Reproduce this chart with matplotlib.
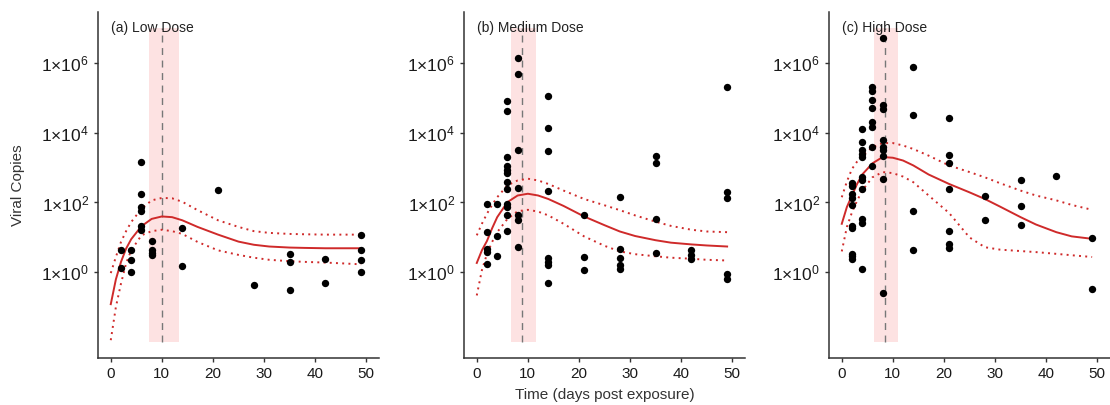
import numpy as np
import matplotlib
matplotlib.use("Agg")
import matplotlib.pyplot as plt

plt.rcParams['font.family'] = ['Liberation Sans', 'DejaVu Sans']
plt.rcParams['mathtext.fontset'] = 'custom'
plt.rcParams['mathtext.rm'] = 'Liberation Sans'
plt.rcParams['mathtext.it'] = 'Liberation Sans:italic'

# observed viral copies (log10), per dose group
low_day = [2, 2, 4, 4, 4, 6, 6, 6, 6, 6, 6, 8, 8, 8, 8, 14, 14, 21, 28, 35, 35, 35, 42, 42, 49, 49, 49, 49]
low_log = [0.63, 0.13, 0.63, 0.34, 0.0, 3.17, 2.23, 1.87, 1.77, 1.34, 1.2, 0.9, 0.63, 0.56, 0.49,
           1.27, 0.18, 2.36, -0.35, 0.53, 0.29, -0.51, 0.37, -0.3, 1.07, 0.63, 0.34, 0.0]

med_day = ([2] * 5 + [4] * 3 + [6] * 12 + [8] * 7 + [14] * 8 + [21] * 3 + [28] * 5
           + [35] * 4 + [42] * 3 + [49] * 5)
med_log = [1.95, 1.15, 0.66, 0.58, 0.23,
           1.95, 1.03, 0.47,
           4.9, 4.63, 3.3, 3.03, 2.93, 2.84, 2.58, 2.39, 1.96, 1.87, 1.65, 1.17,
           6.13, 5.69, 3.49, 2.42, 1.63, 1.5, 0.72,
           5.06, 4.13, 3.47, 2.34, 0.42, 0.31, 0.2, -0.3,
           1.63, 0.44, 0.07,
           2.15, 0.66, 0.42, 0.2, 0.1,
           3.14, 3.33, 1.53, 0.55,
           0.63, 0.51, 0.37,
           5.31, 2.29, 2.14, -0.04, -0.18]

high_day = ([2] * 10 + [4] * 11 + [6] * 8 + [8] * 9 + [14] * 4 + [21] * 7 + [28] * 2
            + [35] * 3 + [42] * 1 + [49] * 2)
high_log = [2.56, 2.48, 2.25, 2.14, 1.92, 1.34, 1.28, 0.53, 0.46, 0.39,
            4.1, 3.72, 3.49, 3.39, 3.29, 2.72, 2.63, 2.39, 1.53, 1.41, 0.1,
            5.29, 5.2, 4.93, 4.71, 4.3, 4.15, 3.6, 3.04,
            6.7, 4.8, 4.68, 3.79, 3.58, 3.49, 3.34, 2.68, -0.59,
            5.87, 4.51, 1.77, 0.65,
            4.41, 3.36, 3.13, 2.39, 1.17, 0.8, 0.7,
            2.18, 1.49,
            2.63, 1.91, 1.36,
            2.75,
            0.99, -0.47]

# fitted model (log10) with confidence band
fit_day = [0, 1, 2, 3, 4, 6, 8, 10, 12, 14, 17, 21, 25, 28, 31, 35, 38, 42, 45, 49]
low_fit = [-0.91, -0.2, 0.3, 0.68, 0.95, 1.32, 1.53, 1.6, 1.58, 1.49, 1.3, 1.08, 0.88, 0.79, 0.74, 0.71, 0.7, 0.69, 0.69, 0.69]
low_hi = [-0.02, 0.44, 0.87, 1.18, 1.44, 1.82, 2.06, 2.13, 2.12, 2.02, 1.78, 1.49, 1.3, 1.18, 1.13, 1.1, 1.09, 1.08, 1.08, 1.08]
low_lo = [-1.94, -0.99, -0.32, 0.26, 0.63, 1.06, 1.18, 1.22, 1.18, 1.1, 0.87, 0.63, 0.5, 0.42, 0.36, 0.32, 0.3, 0.28, 0.26, 0.23]

med_fit = [0.27, 0.63, 0.9, 1.26, 1.58, 2.01, 2.2, 2.25, 2.2, 2.1, 1.9, 1.6, 1.35, 1.17, 1.04, 0.92, 0.85, 0.8, 0.77, 0.74]
med_hi = [1.06, 1.39, 1.68, 1.93, 2.15, 2.49, 2.63, 2.68, 2.63, 2.53, 2.34, 2.1, 1.92, 1.78, 1.63, 1.45, 1.33, 1.22, 1.17, 1.15]
med_lo = [-0.66, 0.06, 0.53, 0.87, 1.15, 1.53, 1.75, 1.79, 1.74, 1.63, 1.39, 1.03, 0.76, 0.6, 0.52, 0.46, 0.42, 0.39, 0.36, 0.34]

high_fit = [1.39, 1.87, 2.2, 2.53, 2.8, 3.12, 3.3, 3.28, 3.2, 3.06, 2.8, 2.53, 2.29, 2.1, 1.88, 1.58, 1.37, 1.15, 1.03, 0.96]
high_hi = [2.15, 2.6, 2.96, 3.17, 3.34, 3.58, 3.7, 3.7, 3.63, 3.53, 3.34, 3.06, 2.87, 2.72, 2.55, 2.34, 2.2, 2.06, 1.93, 1.79]
high_lo = [0.6, 1.3, 1.72, 2.05, 2.34, 2.72, 2.87, 2.84, 2.74, 2.58, 2.2, 1.7, 1.0, 0.72, 0.65, 0.61, 0.58, 0.53, 0.49, 0.44]

# peak day and its interval
peak_day = [10.06, 8.9, 8.41]
peak_lo = [7.5, 6.63, 6.33]
peak_hi = [13.3, 11.5, 11.1]

titles = ['(a) Low Dose', '(b) Medium Dose', '(c) High Dose']
days = [low_day, med_day, high_day]
logs = [low_log, med_log, high_log]
fits = [low_fit, med_fit, high_fit]
his = [low_hi, med_hi, high_hi]
los = [low_lo, med_lo, high_lo]

red = '#cf2a2a'
fig = plt.figure(figsize=(11.1, 4.05), dpi=100)
lefts = [98 / 1110, 464 / 1110, 829 / 1110]
w = 281 / 1110

for i in range(3):
    ax = fig.add_axes([lefts[i], 47 / 405, w, 346 / 405])
    ax.fill_between([peak_lo[i], peak_hi[i]], 1e-2, 1e7, color='#fde2e2', lw=0, zorder=0)
    ax.plot([peak_day[i], peak_day[i]], [1e-2, 1e7], color='#777777', lw=1, ls=(0, (5, 4)), zorder=1)
    ax.plot(fit_day, 10 ** np.array(his[i]), color=red, lw=1.4, ls=(0, (1, 2.2)), zorder=2)
    ax.plot(fit_day, 10 ** np.array(los[i]), color=red, lw=1.4, ls=(0, (1, 2.2)), zorder=2)
    ax.plot(fit_day, 10 ** np.array(fits[i]), color=red, lw=1.4, zorder=3)
    ax.scatter(days[i], 10 ** np.array(logs[i]), s=28, color='black', lw=0, zorder=4)

    ax.set_yscale('log')
    ax.set_xlim(-2.5, 52.5)
    ax.set_ylim(10 ** -2.45, 10 ** 7.45)
    ax.set_xticks([0, 10, 20, 30, 40, 50])
    ax.set_yticks([1e0, 1e2, 1e4, 1e6])
    ax.set_yticklabels([r'$\mathregular{1{\times}10^{%d}}$' % p for p in [0, 2, 4, 6]])
    ax.yaxis.set_minor_locator(matplotlib.ticker.NullLocator())
    ax.tick_params(colors='#333333', labelcolor='#1a1a1a', length=3, width=1)
    ax.tick_params(axis='x', labelsize=11)
    ax.tick_params(axis='y', labelsize=12.5)
    for s in ['top', 'right']:
        ax.spines[s].set_visible(False)
    for s in ['left', 'bottom']:
        ax.spines[s].set_color('#333333')
        ax.spines[s].set_linewidth(1.1)
    ax.text(0, 1e7, titles[i], fontsize=10, color='#222222', ha='left', va='center')
    if i == 0:
        ax.set_ylabel('Viral Copies', fontsize=11, color='#333333', labelpad=12)
    if i == 1:
        ax.set_xlabel('Time (days post exposure)', fontsize=11, color='#333333', labelpad=5)

fig.savefig('out.png', dpi=100)
